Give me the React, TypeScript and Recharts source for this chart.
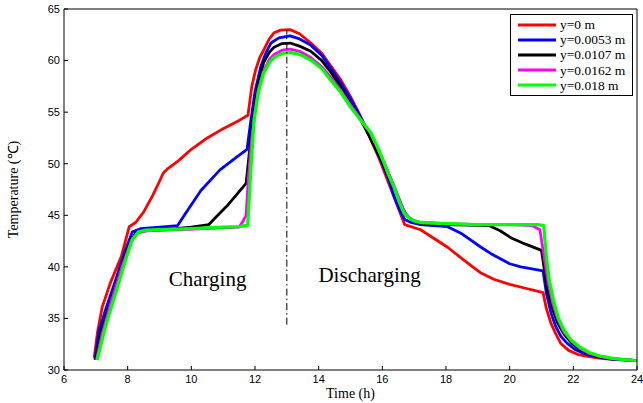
import { LineChart, Line, XAxis, YAxis, ReferenceLine, ReferenceDot, Legend } from "recharts"

const xTicks = [6, 8, 10, 12, 14, 16, 18, 20, 22, 24]
const yTicks = [30, 35, 40, 45, 50, 55, 60, 65]

// y = 0 m
const tRed = [6.95, 7.05, 7.2, 7.45, 7.8, 8.05, 8.25, 8.5, 8.8, 9.0, 9.12, 9.25, 9.6, 10.0, 10.5, 11.0, 11.5, 11.78, 11.9, 12.02, 12.15, 12.27, 12.45, 12.6, 12.8, 13.1, 13.4, 13.75, 14.1, 14.4, 14.7, 15.0, 15.25, 15.5, 15.7, 15.9, 16.1, 16.3, 16.5, 16.7, 17.2, 17.6, 18.05, 18.5, 19.1, 19.5, 20.0, 20.4, 21.05, 21.15, 21.3, 21.45, 21.6, 21.85, 22.15, 22.5, 22.8, 23.3, 24.0]
const vRed = [31.2, 33.6, 36.1, 38.4, 41.0, 43.9, 44.3, 45.3, 47.0, 48.3, 49.1, 49.5, 50.3, 51.4, 52.5, 53.4, 54.2, 54.7, 57.5, 59.1, 60.3, 61.0, 62.1, 62.7, 62.95, 63.0, 62.6, 61.7, 60.7, 59.4, 58.1, 56.5, 55.0, 53.4, 51.9, 50.5, 48.9, 47.3, 45.7, 44.1, 43.6, 42.8, 41.9, 40.8, 39.4, 38.8, 38.3, 38.0, 37.5, 36.0, 34.5, 33.5, 32.6, 31.9, 31.5, 31.3, 31.15, 31.0, 30.9]

// y = 0.0053 m
const tBlue = [6.97, 7.1, 7.3, 7.6, 7.9, 8.15, 8.4, 8.8, 9.2, 9.57, 9.8, 10.3, 10.9, 11.4, 11.75, 11.87, 12.0, 12.18, 12.35, 12.5, 12.75, 13.1, 13.4, 13.75, 14.1, 14.4, 14.7, 15.0, 15.25, 15.5, 15.75, 16.0, 16.2, 16.35, 16.55, 16.7, 16.9, 17.2, 17.6, 18.05, 18.5, 19.1, 19.4, 20.0, 20.35, 21.05, 21.15, 21.3, 21.45, 21.6, 21.8, 22.05, 22.4, 22.8, 23.2, 24.0]
const vBlue = [31.0, 33.8, 35.8, 38.5, 41.4, 43.4, 43.7, 43.8, 43.9, 44.0, 45.1, 47.4, 49.4, 50.6, 51.4, 54.2, 57.0, 59.4, 60.8, 61.7, 62.2, 62.4, 62.1, 61.5, 60.5, 59.2, 57.8, 56.3, 54.9, 53.4, 51.7, 50.0, 48.5, 47.0, 45.5, 44.6, 44.3, 44.1, 44.0, 43.9, 43.2, 41.9, 41.3, 40.3, 40.0, 39.6, 37.5, 35.5, 34.2, 33.3, 32.6, 32.0, 31.5, 31.25, 31.05, 30.9]

// y = 0.0107 m
const tBlack = [7.0, 7.15, 7.4, 7.7, 8.0, 8.25, 8.5, 9.0, 9.5, 10.0, 10.55, 10.8, 11.15, 11.45, 11.72, 11.82, 11.93, 12.1, 12.27, 12.45, 12.6, 12.85, 13.1, 13.4, 13.75, 14.1, 14.4, 14.7, 15.0, 15.35, 15.65, 16.0, 16.2, 16.4, 16.6, 16.75, 16.95, 17.2, 18.0, 19.35, 19.7, 20.05, 20.5, 21.0, 21.1, 21.2, 21.35, 21.5, 21.7, 21.95, 22.2, 22.5, 22.8, 23.2, 24.0]
const vBlack = [31.0, 33.6, 36.0, 39.0, 41.8, 43.3, 43.5, 43.6, 43.7, 43.85, 44.1, 44.9, 46.0, 47.1, 48.1, 51.0, 54.2, 57.7, 59.8, 60.8, 61.3, 61.65, 61.7, 61.4, 60.9, 60.0, 58.8, 57.4, 55.8, 54.1, 52.3, 50.2, 48.8, 47.4, 45.9, 45.0, 44.5, 44.2, 44.1, 44.0, 43.5, 42.8, 42.2, 41.6, 39.5, 37.6, 35.9, 34.6, 33.5, 32.6, 32.0, 31.55, 31.3, 31.1, 30.9]

// y = 0.0162 m
const tMagenta = [7.02, 7.2, 7.5, 7.8, 8.1, 8.3, 8.6, 9.5, 10.5, 11.5, 11.6, 11.72, 11.8, 11.9, 12.0, 12.12, 12.27, 12.45, 12.6, 12.85, 13.1, 13.4, 13.75, 14.1, 14.4, 14.7, 15.0, 15.3, 15.6, 15.85, 16.05, 16.4, 16.7, 16.9, 17.2, 18.0, 19.0, 20.0, 20.7, 20.95, 21.1, 21.2, 21.35, 21.5, 21.7, 21.95, 22.2, 22.5, 22.8, 23.2, 23.6, 24.0]
const vMagenta = [31.0, 33.5, 36.8, 39.8, 42.4, 43.3, 43.5, 43.6, 43.7, 43.85, 44.3, 45.0, 49.0, 52.5, 55.0, 57.3, 59.0, 60.1, 60.6, 61.0, 61.1, 60.9, 60.3, 59.4, 58.3, 57.1, 55.7, 54.4, 53.1, 51.5, 50.2, 47.6, 45.3, 44.6, 44.3, 44.2, 44.1, 44.1, 44.0, 43.6, 40.6, 38.6, 36.5, 35.0, 33.7, 32.8, 32.1, 31.6, 31.35, 31.1, 31.0, 30.9]

// y = 0.018 m
const tGreen = [7.04, 7.3, 7.62, 7.93, 8.14, 8.34, 8.56, 9.0, 10.0, 11.0, 11.5, 11.77, 11.87, 11.97, 12.1, 12.27, 12.45, 12.6, 12.85, 13.1, 13.4, 13.75, 14.1, 14.38, 14.7, 15.0, 15.3, 15.64, 15.85, 16.05, 16.2, 16.37, 16.52, 16.68, 16.85, 17.0, 17.2, 18.0, 19.0, 20.0, 20.9, 21.07, 21.15, 21.25, 21.38, 21.52, 21.7, 21.93, 22.2, 22.5, 22.77, 23.2, 23.6, 24.0]
const vGreen = [30.95, 34.2, 37.45, 40.65, 42.6, 43.4, 43.55, 43.6, 43.7, 43.85, 43.9, 44.05, 49.5, 54.2, 56.9, 58.8, 59.8, 60.3, 60.7, 60.8, 60.6, 60.05, 59.2, 58.1, 56.9, 55.5, 54.3, 53.0, 51.6, 50.1, 48.9, 47.7, 46.4, 45.2, 44.7, 44.45, 44.3, 44.2, 44.1, 44.1, 44.1, 44.0, 41.0, 38.6, 36.7, 35.1, 33.9, 32.9, 32.2, 31.7, 31.4, 31.15, 31.0, 30.9]

const toPoints = (ts: number[], vs: number[]) => ts.map((t, i) => ({ t, v: vs[i] }))

const series = [
  { name: "y=0 m", color: "#ff0000", data: toPoints(tRed, vRed), width: 2.8 },
  { name: "y=0.0053 m", color: "#0000ff", data: toPoints(tBlue, vBlue), width: 2.8 },
  { name: "y=0.0107 m", color: "#000000", data: toPoints(tBlack, vBlack), width: 2.8 },
  { name: "y=0.0162 m", color: "#ff00ff", data: toPoints(tMagenta, vMagenta), width: 2.8 },
  { name: "y=0.018 m", color: "#00ff00", data: toPoints(tGreen, vGreen), width: 3.3 },
]

const serif = "'Liberation Serif', 'Times New Roman', serif"
const sans = "'Liberation Sans', Arial, sans-serif"

function LegendBox() {
  return (
    <div style={{ border: "1px solid #000", background: "#fff", padding: "2px 0 2px 7px", fontFamily: serif, fontSize: 13.5 }}>
      {series.map((s) => (
        <div key={s.name} style={{ display: "flex", alignItems: "center", height: 15.2 }}>
          <svg width={38} height={4} style={{ marginRight: 4 }}>
            <line x1={0} y1={2} x2={38} y2={2} stroke={s.color} strokeWidth={3.2} />
          </svg>
          <span style={{ lineHeight: "15px" }}>{s.name}</span>
        </div>
      ))}
    </div>
  )
}

export default function App() {
  const tick = { fontSize: 11, fill: "#000", fontFamily: sans }
  return (
    <div style={{ position: "absolute", left: 0, top: 0, background: "#fff" }}>
      <LineChart width={643} height={403} margin={{ top: 0, right: 0, bottom: 1, left: 0 }}>
        <XAxis
          dataKey="t"
          type="number"
          domain={[6, 24]}
          ticks={xTicks}
          height={32}
          tickSize={-4}
          tickMargin={9}
          tick={tick}
          stroke="#000"
          allowDataOverflow
          label={{ value: "Time (h)", position: "insideBottom", offset: 4, fontSize: 14, fontFamily: serif, fill: "#000" }}
        />
        <XAxis xAxisId="top" orientation="top" type="number" domain={[6, 24]} ticks={xTicks} height={9} tickSize={-4} tick={false} stroke="#000" />
        <YAxis
          type="number"
          domain={[30, 65]}
          ticks={yTicks}
          width={64}
          tickSize={-4}
          tickMargin={8}
          tick={tick}
          stroke="#000"
          allowDataOverflow
          label={{ value: "Temperature (℃)", angle: -90, position: "insideLeft", offset: 13, fontSize: 14, fontFamily: serif, fill: "#000", style: { textAnchor: "middle" } }}
        />
        <YAxis yAxisId="right" orientation="right" type="number" domain={[30, 65]} ticks={yTicks} width={6} tickSize={-4} tick={false} stroke="#000" />
        {series.map((s) => (
          <Line
            key={s.name}
            data={s.data}
            dataKey="v"
            name={s.name}
            type="linear"
            stroke={s.color}
            strokeWidth={s.width}
            strokeLinejoin="round"
            dot={false}
            isAnimationActive={false}
          />
        ))}
        <ReferenceLine segment={[{ x: 13, y: 34.4 }, { x: 13, y: 63 }]} stroke="#000" strokeWidth={1} strokeDasharray="7 3 1.5 3" />
        <ReferenceDot x={10.51} y={38.9} r={0} fill="none" stroke="none" label={{ value: "Charging", position: "center", fontSize: 21, fontFamily: serif, fill: "#000" }} />
        <ReferenceDot x={15.6} y={39.3} r={0} fill="none" stroke="none" label={{ value: "Discharging", position: "center", fontSize: 21, fontFamily: serif, fill: "#000" }} />
        <Legend layout="vertical" align="center" verticalAlign="middle" wrapperStyle={{ left: 510, top: 14, width: 123 }} content={<LegendBox />} />
      </LineChart>
    </div>
  )
}
